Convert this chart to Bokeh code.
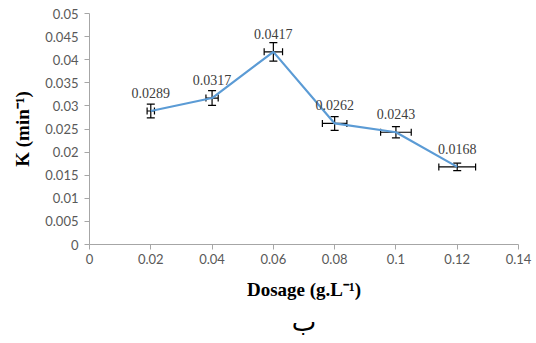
from bokeh.plotting import figure
from bokeh.models import ColumnDataSource, Whisker, TeeHead, FixedTicker, Range1d, Title
from bokeh.embed import file_html
from bokeh.resources import INLINE

dosage = [0.02, 0.04, 0.06, 0.08, 0.10, 0.12]
k_vals = [0.0289, 0.0317, 0.0417, 0.0262, 0.0243, 0.0168]
k_err = [0.0015, 0.0016, 0.0020, 0.0015, 0.0012, 0.0008]
d_err = [0.0012, 0.0020, 0.0030, 0.0040, 0.0050, 0.0060]
point_labels = ["0.0289", "0.0317", "0.0417", "0.0262", "0.0243", "0.0168"]

y_ticks = [0, 0.005, 0.01, 0.015, 0.02, 0.025, 0.03, 0.035, 0.04, 0.045, 0.05]
y_tick_labels = ["0", "0.005", "0.01", "0.015", "0.02", "0.025", "0.03", "0.035", "0.04", "0.045", "0.05"]
x_ticks = [0, 0.02, 0.04, 0.06, 0.08, 0.10, 0.12, 0.14]
x_tick_labels = ["0", "0.02", "0.04", "0.06", "0.08", "0.1", "0.12", "0.14"]

SERIF = "'Liberation Serif', 'Times New Roman', serif"
SANS = "Lato, 'Open Sans', sans-serif"

src = ColumnDataSource(dict(
    x=dosage, y=k_vals, lab=point_labels,
    yl=[v - e for v, e in zip(k_vals, k_err)], yu=[v + e for v, e in zip(k_vals, k_err)],
    xl=[v - e for v, e in zip(dosage, d_err)], xu=[v + e for v, e in zip(dosage, d_err)],
))

p = figure(width=536, height=343, output_backend="svg", toolbar_location=None,
           x_range=Range1d(0, 0.14), y_range=Range1d(0, 0.05),
           min_border_left=89, min_border_right=18, min_border_top=13, min_border_bottom=99)
p.outline_line_color = None
p.grid.visible = False
p.background_fill_color = "white"
p.border_fill_color = "white"

for ax, ticks, labels in ((p.xaxis[0], x_ticks, x_tick_labels), (p.yaxis[0], y_ticks, y_tick_labels)):
    ax.ticker = FixedTicker(ticks=ticks)
    ax.major_label_overrides = {t: l for t, l in zip(ticks, labels)}
    ax.axis_line_color = "#a6a6a6"
    ax.major_tick_line_color = "#a6a6a6"
    ax.major_tick_in = 0
    ax.major_tick_out = 5
    ax.minor_tick_line_color = None
    ax.major_label_text_font = SANS
    ax.major_label_text_font_size = "13px"
    ax.major_label_text_color = "#595959"
    ax.axis_label_text_font = SERIF
    ax.axis_label_text_font_style = "bold"
    ax.axis_label_text_font_size = "19px"
    ax.axis_label_text_color = "#000000"

p.xaxis.axis_label = "Dosage (g.L\u207b\u00b9)"
p.yaxis.axis_label = "K (min\u207b\u00b9)"
p.xaxis.major_label_standoff = 4
p.yaxis.major_label_standoff = 6
p.xaxis.axis_label_standoff = 12
p.yaxis.axis_label_standoff = 9

p.line("x", "y", source=src, line_color="#5b9bd5", line_width=2.2)

p.add_layout(Whisker(source=src, base="x", lower="yl", upper="yu", dimension="height",
                     line_color="black", line_width=1.2,
                     upper_head=TeeHead(size=8, line_color="black", line_width=1.2),
                     lower_head=TeeHead(size=8, line_color="black", line_width=1.2)))
p.add_layout(Whisker(source=src, base="y", lower="xl", upper="xu", dimension="width",
                     line_color="black", line_width=1.2,
                     upper_head=TeeHead(size=7, line_color="black", line_width=1.2),
                     lower_head=TeeHead(size=7, line_color="black", line_width=1.2)))

p.text("x", "y", text="lab", source=src, x_offset=0, y_offset=-13,
       text_align="center", text_baseline="bottom",
       text_font={"value": SERIF}, text_font_size="14px", text_color="#404040")

p.add_layout(Title(text="\u0628", align="center", text_font="DejaVu Sans", text_font_size="26px",
                   text_font_style="normal", text_color="#000000", standoff=4), "below")

open("out.html", "w").write(file_html(p, INLINE))
